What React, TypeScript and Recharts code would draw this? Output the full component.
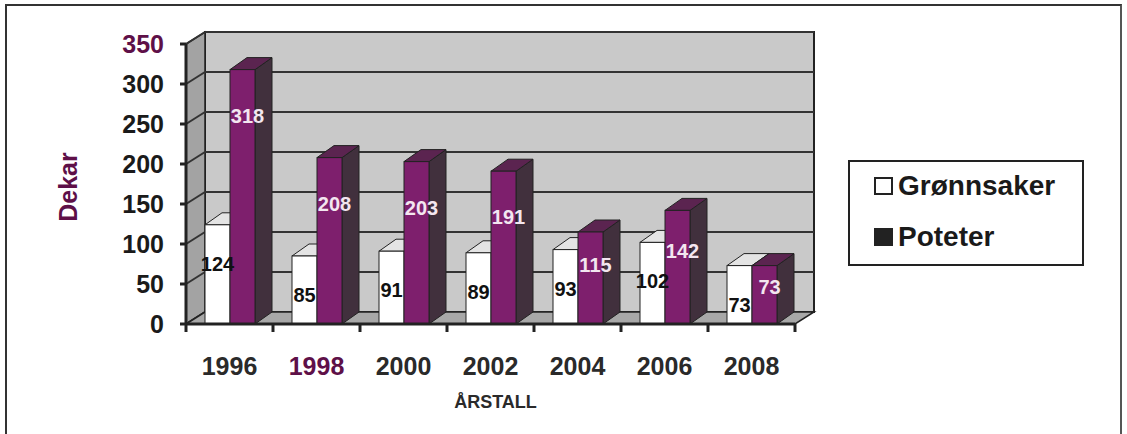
import React from "react";
import {
  BarChart,
  Bar,
  XAxis,
  YAxis,
  ReferenceArea,
  LabelList,
} from "recharts";

const years = ["1996", "1998", "2000", "2002", "2004", "2006", "2008"];
const gronnsaker = [124, 85, 91, 89, 93, 102, 73];
const poteter = [318, 208, 203, 191, 115, 142, 73];
const yTicks = [0, 50, 100, 150, 200, 250, 300, 350];
const seriesNames = ["Grønnsaker", "Poteter"];

const data = years.map((year, i) => ({
  year,
  gronnsaker: gronnsaker[i],
  poteter: poteter[i],
}));

const FONT = "Arial, 'Liberation Sans', sans-serif";
const PURPLE = "#5e1048";
const INK = "#222";
// depth of the 3d walls and bars
const WDX = 19;
const WDY = 12;
const BDX = 17;
const BDY = 12;

function Walls(props: any) {
  const { x, y, width, height } = props;
  const max = yTicks[yTicks.length - 1];
  const yOf = (v: number) => y + height - (v / max) * height;
  const bottom = y + height;
  const n = years.length;
  return (
    <g>
      {/* back wall */}
      <rect
        x={x + WDX}
        y={y - WDY}
        width={width}
        height={height}
        fill="#c9c9c9"
        stroke={INK}
        strokeWidth={2}
      />
      {/* left wall */}
      <polygon
        points={`${x},${y} ${x + WDX},${y - WDY} ${x + WDX},${bottom - WDY} ${x},${bottom}`}
        fill="#a3a3a3"
        stroke={INK}
        strokeWidth={1.5}
      />
      {yTicks.map((t) => (
        <g key={t}>
          <line
            x1={x + WDX}
            y1={yOf(t) - WDY}
            x2={x + width + WDX}
            y2={yOf(t) - WDY}
            stroke="#333"
            strokeWidth={2}
          />
          <line
            x1={x}
            y1={yOf(t)}
            x2={x + WDX}
            y2={yOf(t) - WDY}
            stroke="#333"
            strokeWidth={2}
          />
        </g>
      ))}
      {/* floor */}
      <polygon
        points={`${x},${bottom} ${x + width},${bottom} ${x + width + WDX},${bottom - WDY} ${x + WDX},${bottom - WDY}`}
        fill="#a8a8a8"
        stroke={INK}
        strokeWidth={1.5}
      />
      {Array.from({ length: n + 1 }).map((_, i) => (
        <line
          key={i}
          x1={x + (i * width) / n}
          y1={bottom}
          x2={x + (i * width) / n}
          y2={bottom + 8}
          stroke={INK}
          strokeWidth={3}
        />
      ))}
    </g>
  );
}

function Bar3D(props: any) {
  const { x, y, width, height, front, top, side } = props;
  if (!height || height <= 0) return null;
  const r = x + width;
  const b = y + height;
  return (
    <g>
      <polygon
        points={`${r},${y} ${r + BDX},${y - BDY} ${r + BDX},${b - BDY} ${r},${b}`}
        fill={side}
        stroke={INK}
        strokeWidth={1}
      />
      <polygon
        points={`${x},${y} ${x + BDX},${y - BDY} ${r + BDX},${y - BDY} ${r},${y}`}
        fill={top}
        stroke={INK}
        strokeWidth={1}
      />
      <rect x={x} y={y} width={width} height={height} fill={front} stroke={INK} strokeWidth={1} />
    </g>
  );
}

function WhiteLabel(props: any) {
  const { x, y, width, value } = props;
  return (
    <text
      x={x + width / 2}
      y={y + 39}
      textAnchor="middle"
      dominantBaseline="central"
      fontFamily={FONT}
      fontWeight="bold"
      fontSize={20}
      fill="#111"
    >
      {value}
    </text>
  );
}

function PurpleLabel(props: any) {
  const { x, y, width, height, value } = props;
  return (
    <text
      x={x + width / 2 + 5}
      y={y + Math.min(height * 0.36, 46)}
      textAnchor="middle"
      dominantBaseline="central"
      fontFamily={FONT}
      fontWeight="bold"
      fontSize={20}
      fill="#f3e6f0"
    >
      {value}
    </text>
  );
}

function YTick(props: any) {
  const { x, y, payload } = props;
  return (
    <text
      x={x}
      y={y}
      textAnchor="end"
      dominantBaseline="central"
      fontFamily={FONT}
      fontWeight="bold"
      fontSize={25}
      fill={payload.value === 350 ? PURPLE : "#1a1a1a"}
    >
      {payload.value}
    </text>
  );
}

function XTick(props: any) {
  const { x, y, payload } = props;
  return (
    <text
      x={x}
      y={y + 51}
      textAnchor="middle"
      fontFamily={FONT}
      fontWeight="bold"
      fontSize={25}
      fill={payload.value === "1998" ? PURPLE : "#2a2a2a"}
    >
      {payload.value}
    </text>
  );
}

function Legend3D() {
  const row = (name: string, filled: boolean, top: number) => (
    <div
      key={name}
      style={{
        position: "absolute",
        left: 24,
        top,
        display: "flex",
        alignItems: "center",
        fontFamily: FONT,
        fontWeight: "bold",
        fontSize: 28,
        color: "#1a1a1a",
      }}
    >
      <span
        style={{
          display: "inline-block",
          width: 15,
          height: 14,
          marginRight: 5,
          border: "2px solid #222",
          background: filled ? "#222" : "#fff",
        }}
      />
      {name}
    </div>
  );
  return (
    <div
      style={{
        position: "absolute",
        left: 848,
        top: 160,
        width: 232,
        height: 102,
        border: "2px solid #222",
        background: "#fff",
      }}
    >
      {row(seriesNames[0], false, 8)}
      {row(seriesNames[1], true, 59)}
    </div>
  );
}

export default function App() {
  return (
    <div
      style={{
        position: "absolute",
        left: 0,
        top: 0,
        width: 1127,
        height: 434,
        background: "#fff",
        overflow: "hidden",
      }}
    >
      <div
        style={{
          position: "absolute",
          left: 5,
          top: 4,
          width: 1113,
          height: 460,
          borderLeft: "2px solid #333",
          borderTop: "2px solid #333",
          borderRight: "2px solid #555",
        }}
      />
      <BarChart
        width={1127}
        height={434}
        data={data}
        margin={{ top: 44, right: 332, bottom: 60, left: 46 }}
        barSize={25}
        barGap={0}
        style={{ position: "absolute", left: 0, top: 0 }}
      >
        <ReferenceArea
          y1={0}
          y2={350}
          ifOverflow="visible"
          shape={(p: any) => <Walls {...p} />}
        />
        <XAxis
          dataKey="year"
          height={50}
          axisLine={{ stroke: INK, strokeWidth: 3 }}
          tickLine={false}
          tickSize={0}
          tickMargin={0}
          tick={<XTick />}
          interval={0}
          label={{
            content: (p: any) => (
              <text
                x={p.viewBox.x + p.viewBox.width / 2 + 5}
                y={p.viewBox.y + 84}
                textAnchor="middle"
                fontFamily={FONT}
                fontWeight="bold"
                fontSize={18}
                fill="#2a2a2a"
              >
                ÅRSTALL
              </text>
            ),
          }}
        />
        <YAxis
          width={140}
          domain={[0, 350]}
          ticks={yTicks}
          interval={0}
          axisLine={{ stroke: INK, strokeWidth: 3 }}
          tickLine={{ stroke: INK, strokeWidth: 3 }}
          tickSize={6}
          tickMargin={16}
          tick={<YTick />}
          label={{
            content: (p: any) => {
              const cx = p.viewBox.x + 22;
              const cy = p.viewBox.y + p.viewBox.height / 2 + 3;
              return (
                <text
                  x={cx}
                  y={cy}
                  transform={`rotate(-90, ${cx}, ${cy})`}
                  textAnchor="middle"
                  dominantBaseline="central"
                  fontFamily={FONT}
                  fontWeight="bold"
                  fontSize={25}
                  fill={PURPLE}
                >
                  Dekar
                </text>
              );
            },
          }}
        />
        <Bar
          dataKey="gronnsaker"
          name={seriesNames[0]}
          isAnimationActive={false}
          shape={(p: any) => <Bar3D {...p} front="#ffffff" top="#e4e4e4" side="#bdbdbd" />}
        >
          <LabelList dataKey="gronnsaker" content={<WhiteLabel />} />
        </Bar>
        <Bar
          dataKey="poteter"
          name={seriesNames[1]}
          isAnimationActive={false}
          shape={(p: any) => <Bar3D {...p} front="#7e1f6d" top="#5b2450" side="#41303d" />}
        >
          <LabelList dataKey="poteter" content={<PurpleLabel />} />
        </Bar>
      </BarChart>
      <Legend3D />
    </div>
  );
}
